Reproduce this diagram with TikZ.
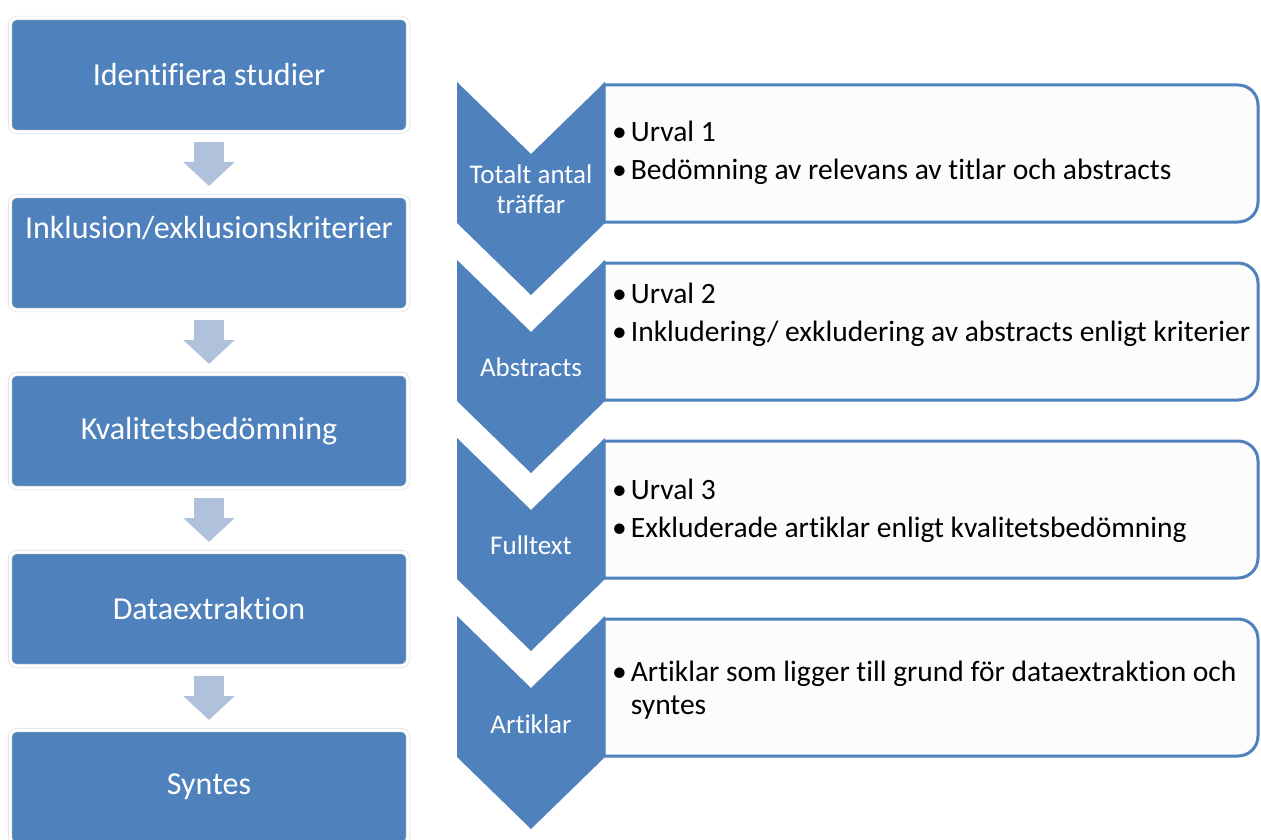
\documentclass[tikz,border=0pt]{standalone}
\usepackage{fontspec}
\setmainfont{Carlito}[Ligatures=NoCommon]
\usetikzlibrary{arrows.meta}
\definecolor{boxblue}{HTML}{4F81BD}
\definecolor{arrowblue}{HTML}{B0C1DC}
\definecolor{itemfill}{HTML}{FCFCFC}
\newcommand{\itembullet}{•\kern4pt}

\begin{document}
\begin{tikzpicture}[x=1pt, y=-1pt,
		stepbox/.style={rectangle, rounded corners=7pt, fill=boxblue, draw=black!14, double=white, double distance=3pt, line width=0.6pt, minimum width=398pt, minimum height=114pt, outer sep=0pt, text=white, align=center, font=\fontsize{32}{38}\selectfont},
		downarrow/.style={draw=arrowblue, line width=30pt, -{Triangle[width=50pt, length=24pt]}, shorten <=10pt, shorten >=10pt},
		chevron/.style={fill=boxblue},
		chevtext/.style={text=white, align=center, inner sep=0pt, font=\fontsize{27}{30}\selectfont},
		itembox/.style={fill=itemfill, draw=boxblue, line width=3pt},
		itemtext/.style={anchor=west, align=left, inner sep=0pt, font=\fontsize{29.5}{38}\selectfont}]
	\useasboundingbox (0,0) rectangle (1261,840);

	\node[stepbox] (identifiera) 	at (209,75) 	{Identifiera studier};
	\node[stepbox] (inklusion) 	at (209,253) 	{Inklusion/exklusionskriterier\\[14pt]~};
	\node[stepbox] (kvalitet) 	at (209,431) 	{Kvalitetsbedömning};
	\node[stepbox] (dataextr) 	at (209,609) 	{Dataextraktion};
	\node[stepbox] (syntes) 	at (209,787) 	{Syntes};

	\draw[downarrow] (identifiera.south) -- (inklusion.north);
	\draw[downarrow] (inklusion.south) -- (kvalitet.north);
	\draw[downarrow] (kvalitet.south) -- (dataextr.north);
	\draw[downarrow] (dataextr.south) -- (syntes.north);

	\draw[itembox] (604,222) [sharp corners] -- (604,85) [rounded corners=20pt] -- (1258,85) -- (1258,222) [sharp corners] -- cycle;
	\draw[itembox] (604,400) [sharp corners] -- (604,263) [rounded corners=20pt] -- (1258,263) -- (1258,400) [sharp corners] -- cycle;
	\draw[itembox] (604,578) [sharp corners] -- (604,441) [rounded corners=20pt] -- (1258,441) -- (1258,578) [sharp corners] -- cycle;
	\draw[itembox] (604,756) [sharp corners] -- (604,619) [rounded corners=20pt] -- (1258,619) -- (1258,756) [sharp corners] -- cycle;

	\fill[chevron] (457,82) -- (531,154) -- (605,82) -- (605,223) -- (531,295) -- (457,223) -- cycle;
	\fill[chevron] (457,260) -- (531,332) -- (605,260) -- (605,401) -- (531,473) -- (457,401) -- cycle;
	\fill[chevron] (457,438) -- (531,510) -- (605,438) -- (605,579) -- (531,651) -- (457,579) -- cycle;
	\fill[chevron] (457,616) -- (531,688) -- (605,616) -- (605,757) -- (531,829) -- (457,757) -- cycle;

	\node[chevtext] (totalt) 	at (531,189) 	{Totalt antal\\träffar};
	\node[chevtext] (abstracts) 	at (531,367) 	{Abstracts};
	\node[chevtext] (fulltext) 	at (531,545) 	{Fulltext};
	\node[chevtext] (artiklar) 	at (531,724) 	{Artiklar};

	\node[itemtext] (urval1) 	at (612,152.5) 	{\itembullet Urval 1\\\itembullet Bedömning av relevans av titlar och abstracts};
	\node[itemtext] (urval2) 	at (612,315) 	{\itembullet Urval 2\\\itembullet Inkludering/ exkludering av abstracts enligt kriterier};
	\node[itemtext] (urval3) 	at (612,511) 	{\itembullet Urval 3\\\itembullet Exkluderade artiklar enligt kvalitetsbedömning};
	\node[itemtext] (underlag) 	at (612,690) 	{\itembullet Artiklar som ligger till grund för dataextraktion och\\[-5pt]\hphantom{\itembullet}syntes};
\end{tikzpicture}
\end{document}
